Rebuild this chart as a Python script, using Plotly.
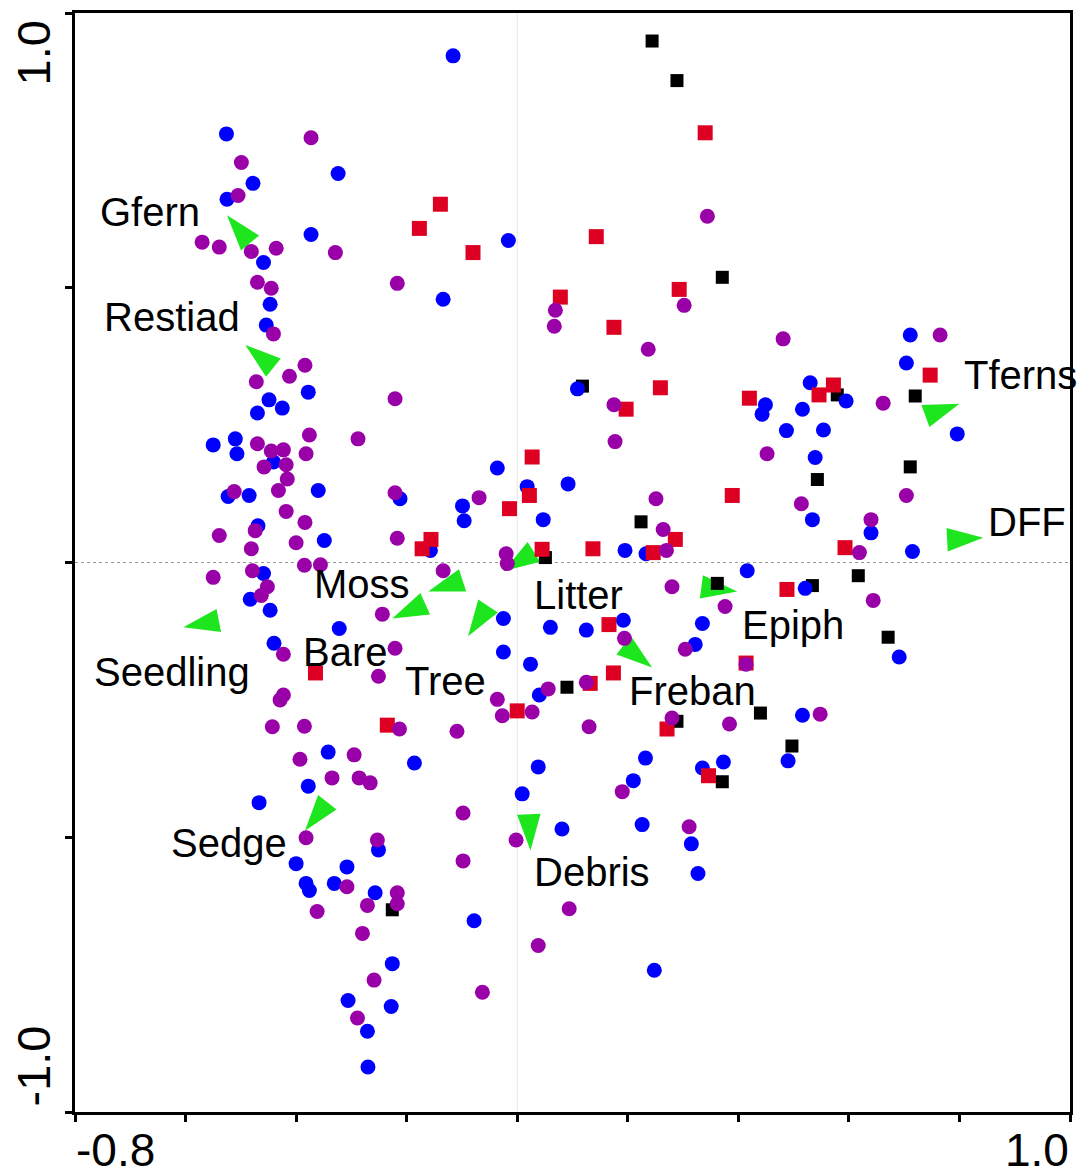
import math
import plotly.graph_objects as go

# ---- site scores (ordination axes 1 and 2) ----
blue_x = [-0.116, -0.526, -0.478, -0.324, -0.525, -0.373, -0.016, -0.459, -0.134, -0.447,
          -0.454, 0.109, -0.378, -0.449, -0.425, -0.470, -0.550, -0.510, -0.507, -0.441,
          -0.523, -0.485, -0.360, -0.212, -0.469, -0.349, -0.459, -0.483, -0.447, -0.322,
          -0.440, -0.036, 0.018, 0.092, -0.099, -0.096, 0.047, -0.157, 0.195, 0.233,
          -0.025, -0.025, 0.060, 0.125, 0.192, 0.024, 0.040, 0.416, 0.335, 0.322,
          0.521, 0.516, 0.490, 0.691, 0.232, 0.038, 0.009, 0.210, 0.335, 0.373,
          0.081, 0.226, 0.315, 0.327, 0.248, -0.078, -0.186, -0.342, -0.378, -0.467,
          -0.251, -0.400, -0.308, -0.382, -0.376, -0.331, -0.257, -0.226, -0.306, -0.228,
          -0.271, -0.270, 0.530, 0.449, 0.443, 0.595, 0.516, 0.487, 0.554, 0.539,
          0.534, 0.640, 0.715, 0.704, 0.711, 0.796]
blue_y = [0.922, 0.780, 0.690, 0.708, 0.661, 0.597, 0.586, 0.546, 0.479, 0.470,
          0.432, 0.316, 0.310, 0.296, 0.281, 0.272, 0.214, 0.225, 0.198, 0.183,
          0.120, 0.122, 0.131, 0.116, 0.067, 0.040, -0.020, -0.067, -0.087, -0.120,
          -0.147, 0.172, 0.138, 0.143, 0.103, 0.076, 0.078, 0.022, 0.022, 0.016,
          -0.102, -0.163, -0.118, -0.123, -0.105, -0.185, -0.241, -0.015, -0.111, -0.149,
          -0.047, -0.278, -0.361, -0.172, -0.356, -0.372, -0.421, -0.397, -0.374, -0.363,
          -0.485, -0.477, -0.512, -0.566, -0.742, -0.652, -0.365, -0.345, -0.407, -0.437,
          -0.523, -0.548, -0.554, -0.584, -0.597, -0.584, -0.601, -0.730, -0.797, -0.808,
          -0.853, -0.918, 0.327, 0.287, 0.270, 0.294, 0.279, 0.240, 0.241, 0.191,
          0.078, 0.054, 0.020, 0.363, 0.414, 0.234]

purple_x = [-0.373, -0.499, -0.505, -0.570, -0.539, -0.481, -0.436, -0.329, -0.470, -0.445,
            -0.217, -0.441, -0.384, -0.412, -0.472, -0.221, -0.470, -0.445, -0.423, -0.458,
            -0.418, -0.376, -0.382, -0.288, -0.416, -0.432, -0.512, -0.221, -0.418, -0.384,
            -0.474, -0.539, -0.481, -0.400, -0.217, -0.385, -0.356, -0.550, -0.479, -0.452,
            -0.463, -0.244, -0.423, -0.221, -0.251, -0.423, -0.429, -0.443, -0.385, -0.213,
            -0.109, -0.295, -0.393, -0.335, -0.286, -0.266, -0.382, -0.253, -0.098, -0.098,
            -0.308, -0.217, -0.217, -0.271, -0.362, -0.280, -0.259, -0.289, -0.063, 0.038,
            0.094, -0.002, 0.190, 0.311, 0.130, -0.036, -0.027, 0.027, 0.056, 0.125,
            0.280, 0.384, 0.414, 0.304, 0.194, 0.376, 0.280, -0.134, -0.020, -0.018,
            -0.069, 0.264, 0.270, 0.251, 0.175, 0.177, 0.237, 0.069, 0.067, 0.302,
            0.344, 0.481, 0.662, 0.765, 0.452, 0.514, 0.704, 0.640, 0.619, 0.644,
            0.548]
purple_y = [0.773, 0.728, 0.668, 0.583, 0.574, 0.566, 0.572, 0.564, 0.510, 0.499,
            0.508, 0.416, 0.359, 0.339, 0.329, 0.298, 0.216, 0.203, 0.205, 0.174,
            0.178, 0.232, 0.198, 0.225, 0.152, 0.131, 0.129, 0.127, 0.093, 0.073,
            0.058, 0.049, 0.025, 0.036, 0.044, -0.005, -0.004, -0.027, -0.015, -0.044,
            -0.060, -0.094, -0.167, -0.156, -0.207, -0.241, -0.250, -0.299, -0.298, -0.303,
            -0.307, -0.350, -0.358, -0.392, -0.392, -0.401, -0.501, -0.505, -0.456, -0.543,
            -0.590, -0.601, -0.621, -0.624, -0.635, -0.675, -0.760, -0.829, -0.782, -0.697,
            -0.630, -0.505, -0.417, -0.481, -0.299, -0.249, -0.279, -0.272, -0.230, -0.218,
            -0.283, -0.294, -0.185, -0.158, -0.138, -0.080, -0.044, -0.015, 0.016, -0.002,
            0.118, 0.060, 0.022, 0.116, 0.287, 0.220, 0.388, 0.459, 0.430, 0.468,
            0.630, 0.407, 0.290, 0.414, 0.198, 0.107, 0.122, 0.078, 0.018, -0.069,
            -0.276]

red_x = [0.340, -0.139, -0.177, -0.080, 0.143, 0.293, 0.078, 0.175, 0.259, 0.197,
         0.420, 0.572, 0.546, 0.747, 0.027, 0.022, -0.014, 0.389, -0.156, -0.172,
         0.045, 0.137, 0.246, 0.286, 0.593, 0.488, 0.166, 0.174, 0.132, 0.414,
         0.000, 0.271, 0.346, -0.235, -0.365]
red_y = [0.782, 0.652, 0.608, 0.564, 0.593, 0.497, 0.483, 0.428, 0.318, 0.279,
         0.299, 0.323, 0.305, 0.341, 0.192, 0.122, 0.098, 0.122, 0.042, 0.025,
         0.024, 0.025, 0.018, 0.042, 0.027, -0.049, -0.113, -0.201, -0.220, -0.183,
         -0.270, -0.303, -0.388, -0.296, -0.201]

black_x = [0.244, 0.289, 0.371, 0.118, 0.579, 0.720, 0.711, 0.543, 0.224, 0.051,
           0.362, 0.534, 0.617, 0.671, 0.090, 0.289, 0.440, 0.497, 0.371, -0.226]
black_y = [0.949, 0.877, 0.519, 0.321, 0.305, 0.303, 0.174, 0.151, 0.074, 0.009,
           -0.038, -0.042, -0.024, -0.136, -0.227, -0.289, -0.274, -0.334, -0.399, -0.632]

# ---- environmental variable arrows (tips) and their labels ----
env_names = ["Gfern", "Restiad", "Tferns", "DFF", "Moss", "Bare", "Tree", "Litter",
             "Epiph", "Freban", "Seedling", "Sedge", "Debris"]
env_x = [-0.525, -0.492, 0.800, 0.843, -0.161, -0.226, -0.089, -0.025,
         0.398, 0.244, -0.604, -0.384, 0.024]
env_y = [0.632, 0.396, 0.289, 0.045, -0.053, -0.102, -0.134, -0.016,
         -0.053, -0.191, -0.118, -0.488, -0.524]
label_x = [-0.664, -0.624, 0.910, 0.923, -0.280, -0.311, -0.130, 0.110,
           0.499, 0.317, -0.624, -0.521, 0.136]
label_y = [0.637, 0.447, 0.341, 0.073, -0.040, -0.163, -0.216, -0.060,
           -0.114, -0.234, -0.200, -0.510, -0.564]

x_ticks = [-0.8, -0.6, -0.4, -0.2, 0.0, 0.2, 0.4, 0.6, 0.8, 1.0]
y_ticks = [-1.0, -0.5, 0.0, 0.5, 1.0]
x_range = [-0.8, 1.0]
y_range = [-1.0, 1.0]

FONT = "Liberation Sans, Arial, Helvetica, sans-serif"
arrow_angles = [math.degrees(math.atan2(x, y)) for x, y in zip(env_x, env_y)]

fig = go.Figure()
fig.add_trace(go.Scatter(x=env_x, y=env_y, mode="markers",
                         marker=dict(symbol="arrow", size=38, color="#1ee61e",
                                     angle=arrow_angles, line=dict(width=0)),
                         hoverinfo="text", text=env_names))
fig.add_trace(go.Scatter(x=black_x, y=black_y, mode="markers",
                         marker=dict(symbol="square", size=13, color="#000000", line=dict(width=0))))
fig.add_trace(go.Scatter(x=blue_x, y=blue_y, mode="markers",
                         marker=dict(symbol="circle", size=15, color="#0000ff", line=dict(width=0))))
fig.add_trace(go.Scatter(x=red_x, y=red_y, mode="markers",
                         marker=dict(symbol="square", size=15, color="#dd0022", line=dict(width=0))))
fig.add_trace(go.Scatter(x=purple_x, y=purple_y, mode="markers",
                         marker=dict(symbol="circle", size=15, color="#9900a8", line=dict(width=0))))

annotations = []
for name, lx, ly in zip(env_names, label_x, label_y):
    annotations.append(dict(x=lx, y=ly, xref="x", yref="y", text=name, showarrow=False,
                            font=dict(family=FONT, size=40, color="#000000"),
                            xanchor="center", yanchor="middle"))
# end tick labels, aligned inward as in the original
annotations += [
    dict(x=x_ticks[0], y=0, xref="x", yref="paper", text="-0.8", showarrow=False,
         xanchor="left", yanchor="middle", yshift=-38, borderpad=0,
         font=dict(family=FONT, size=46, color="#000000")),
    dict(x=x_ticks[-1], y=0, xref="x", yref="paper", text="1.0", showarrow=False,
         xanchor="right", yanchor="middle", yshift=-38, borderpad=0,
         font=dict(family=FONT, size=46, color="#000000")),
    dict(x=0, y=y_ticks[-1], xref="paper", yref="y", text="1.0", showarrow=False,
         textangle=-90, xanchor="center", yanchor="top", xshift=-42, yshift=-6,
         font=dict(family=FONT, size=47, color="#000000")),
    dict(x=0, y=y_ticks[0], xref="paper", yref="y", text="-1.0", showarrow=False,
         textangle=-90, xanchor="center", yanchor="bottom", xshift=-42, yshift=3,
         font=dict(family=FONT, size=47, color="#000000")),
]

shapes = [
    dict(type="line", xref="paper", yref="y", x0=0, x1=1, y0=0, y1=0, layer="below",
         line=dict(color="#9a9a9a", width=1, dash="dot")),
    dict(type="line", xref="x", yref="paper", x0=0, x1=0, y0=0, y1=1, layer="below",
         line=dict(color="#e6e6e6", width=1)),
]

axis_common = dict(showgrid=False, zeroline=False, showline=True, linecolor="#000000",
                   linewidth=2.5, mirror=True, ticks="outside", ticklen=7, tickwidth=2.5,
                   tickcolor="#000000", showticklabels=False)
# the page body adds an 8 px margin, so the figure is 8 px smaller on each side
fig.update_layout(
    width=1078, height=1168,
    margin=dict(l=67, r=16, t=2, b=64),
    paper_bgcolor="#ffffff", plot_bgcolor="#ffffff",
    showlegend=False,
    xaxis=dict(range=x_range, tickvals=x_ticks, **axis_common),
    yaxis=dict(range=y_range, tickvals=y_ticks, **axis_common),
    annotations=annotations, shapes=shapes,
)
fig.write_html("out.html")
